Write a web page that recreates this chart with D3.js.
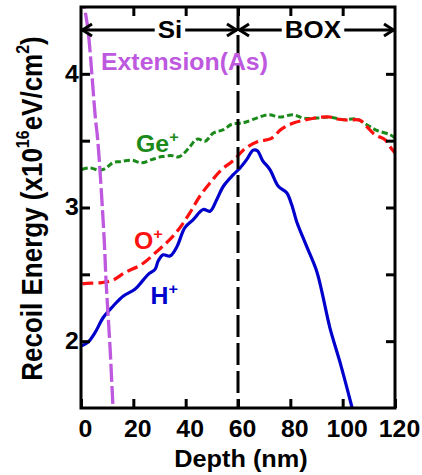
<!DOCTYPE html>
<html>
<head>
<meta charset="utf-8">
<script src="https://cdn.jsdelivr.net/npm/d3@7"></script>
<style>
  body { margin: 0; background: #fff; }
  svg { display: block; }
  text { font-family: "Liberation Sans", Arial, Helvetica, sans-serif; font-weight: bold; }
</style>
</head>
<body>
<svg id="chart" width="422" height="475"></svg>
<script>
// Axis ticks
const depthTicks = [0, 20, 40, 60, 80, 100, 120];
const energyTicks = [2, 2.5, 3, 3.5, 4];
const energyLabelTicks = [2, 3, 4];
const topTicks = [20, 40, 60, 80, 100];

// Region boundary (Si / BOX interface, nm)
const interfaceDepth = 60;
const regionNames = ["Si", "BOX"];
const regionLabelDepth = [34, 88.6];

// H+ recoil energy
const hDepth = [0.3, 2.8, 5.4, 8.5, 12.3, 16.2, 20.6, 23.2, 25.7, 28.3, 29.5, 31.4, 34.0, 36.6, 39.7, 42.9,
  46.7, 49.3, 51.9, 54.4, 58.2, 60.8, 63.3, 65.8, 67.4, 69.4, 72.2, 75.4, 78.6, 80.5, 82.4, 86.2, 90.1,
  92.0, 95.1, 99.0, 103.4, 104.5];
const hEnergy = [1.965, 1.995, 2.065, 2.177, 2.263, 2.338, 2.388, 2.444, 2.50, 2.537, 2.60, 2.646, 2.637,
  2.705, 2.849, 2.91, 2.985, 2.972, 3.06, 3.159, 3.246, 3.296, 3.358, 3.429, 3.425, 3.351, 3.284, 3.159,
  3.11, 3.022, 2.896, 2.711, 2.522, 2.375, 2.102, 1.841, 1.517, 1.43];

// O+ recoil energy
const oDepth = [0.5, 2.2, 7.9, 12.0, 16.8, 23.2, 29.2, 34.0, 37.8, 41.6, 45.4, 49.3, 53.8, 58.2, 62.7,
  67.6, 72.6, 76.6, 81.4, 86.2, 91.3, 95.1, 97.7, 102.0, 106.6, 109.3, 112.3, 116.2, 118.1, 120];
const oEnergy = [2.43, 2.433, 2.438, 2.455, 2.513, 2.575, 2.675, 2.761, 2.849, 2.96, 3.084, 3.184, 3.284,
  3.352, 3.44, 3.493, 3.515, 3.586, 3.634, 3.657, 3.675, 3.677, 3.662, 3.654, 3.653, 3.604, 3.545, 3.507,
  3.455, 3.408];

// Ge+ recoil energy
const geDepth = [0.3, 3.4, 6.9, 8.8, 10.4, 12.3, 14.9, 19.4, 23.2, 27.0, 31.0, 34.8, 37.2, 39.0, 41.7,
  43.6, 44.8, 47.4, 50.6, 54.4, 57.6, 60.8, 62.7, 67.1, 71.6, 76.0, 81.1, 84.9, 90.1, 95.1, 100.2, 105.4,
  109.2, 113.0, 118.1, 120];
const geEnergy = [3.284, 3.296, 3.278, 3.287, 3.308, 3.336, 3.343, 3.354, 3.334, 3.358, 3.381, 3.388,
  3.378, 3.399, 3.457, 3.502, 3.513, 3.495, 3.557, 3.582, 3.623, 3.631, 3.638, 3.669, 3.694, 3.677, 3.694,
  3.669, 3.669, 3.677, 3.657, 3.662, 3.619, 3.577, 3.545, 3.52];

// Extension (As) profile
const asDepth = [0.6, 1.34, 2.67, 5.54, 6.38, 8.87, 9.55, 11.08, 12.23, 12.6];
const asEnergy = [4.62, 4.5, 4.33, 3.66, 3.51, 2.76, 2.46, 1.96, 1.51, 1.4];

const W = 422, H = 475;
const plot = { left: 81, right: 395, top: 7, bottom: 408 };
const sx = 1.08; // horizontal stretch of lettering

const x = d3.scaleLinear().domain([0, 120]).range([plot.left, plot.right]);
const y = d3.scaleLinear().domain([1.5, 4.5]).range([plot.bottom, plot.top]);

const svg = d3.select("#chart");

svg.append("defs").append("clipPath").attr("id", "plotClip")
  .append("rect")
  .attr("x", plot.left).attr("y", plot.top)
  .attr("width", plot.right - plot.left).attr("height", plot.bottom - plot.top);

// Text helper: parts = [{t, sup}], stretched horizontally
function label(parent, tx, ty, parts, opt) {
  const g = parent.append("g").attr("transform", `translate(${tx},${ty}) scale(${opt.scale || sx},1)`);
  const t = g.append("text").attr("x", 0).attr("y", 0)
    .attr("font-size", opt.size).attr("fill", opt.color || "#000")
    .attr("text-anchor", opt.anchor || "start");
  if (opt.spacing) t.attr("letter-spacing", opt.spacing);
  let raised = 0;
  parts.forEach(p => {
    const s = t.append("tspan").text(p.t);
    if (p.sup) {
      s.attr("font-size", opt.supSize).attr("dy", -opt.supRise);
      raised = opt.supRise;
    } else if (raised) {
      s.attr("dy", raised);
      raised = 0;
    }
  });
  return { g, t };
}

// Curves
const line = d3.line()
  .x(d => x(d[0])).y(d => y(d[1]))
  .curve(d3.curveCatmullRom.alpha(0.5));

const curves = svg.append("g").attr("clip-path", "url(#plotClip)");

function series(xs, ys, color, width, dash) {
  const p = curves.append("path")
    .datum(d3.zip(xs, ys))
    .attr("d", line)
    .attr("fill", "none")
    .attr("stroke", color)
    .attr("stroke-width", width)
    .attr("stroke-linejoin", "round");
  if (dash) p.attr("stroke-dasharray", dash);
}

series(geDepth, geEnergy, "#1b8a1b", 3, "6,3");
series(oDepth, oEnergy, "#ff1010", 3.2, "11,5");
series(hDepth, hEnergy, "#0000cc", 3.2, null);
series(asDepth, asEnergy, "#bd58df", 3.3, "18,4");

// Interface line
svg.append("line")
  .attr("x1", x(interfaceDepth)).attr("x2", x(interfaceDepth))
  .attr("y1", plot.top).attr("y2", plot.bottom)
  .attr("stroke", "#000").attr("stroke-width", 3)
  .attr("stroke-dasharray", "22,6");

// Frame
svg.append("rect")
  .attr("x", plot.left).attr("y", plot.top)
  .attr("width", plot.right - plot.left).attr("height", plot.bottom - plot.top)
  .attr("fill", "none").attr("stroke", "#000").attr("stroke-width", 3);

// Axes (ticks pointing inward)
function styleAxis(g) {
  g.select(".domain").remove();
  g.selectAll(".tick line").attr("stroke", "#000").attr("stroke-width", 3);
  g.selectAll(".tick text")
    .attr("font-family", '"Liberation Sans", Arial, sans-serif')
    .attr("font-weight", "bold").attr("font-size", 23).attr("fill", "#000");
}

const xAxis = svg.append("g").attr("transform", `translate(0,${plot.bottom})`)
  .call(d3.axisBottom(x).tickValues(depthTicks).tickSizeInner(-9).tickSizeOuter(0).tickPadding(13)
    .tickFormat(d3.format("d")));
styleAxis(xAxis);
xAxis.selectAll(".tick text").attr("transform", `translate(4,0) scale(${sx},1)`);

svg.append("g").attr("transform", `translate(0,${plot.top})`)
  .call(d3.axisTop(x).tickValues(topTicks).tickSizeInner(-9).tickSizeOuter(0).tickFormat(""))
  .call(styleAxis);

const yAxis = svg.append("g").attr("transform", `translate(${plot.left},0)`)
  .call(d3.axisLeft(y).tickValues(energyTicks).tickSizeInner(-9).tickSizeOuter(0).tickPadding(2)
    .tickFormat(d => energyLabelTicks.includes(d) ? d3.format("d")(d) : ""));
styleAxis(yAxis);
yAxis.selectAll(".tick text").attr("transform", `scale(${sx},1)`);

svg.append("g").attr("transform", `translate(${plot.right},0)`)
  .call(d3.axisRight(y).tickValues(energyTicks).tickSizeInner(-9).tickSizeOuter(0).tickFormat(""))
  .call(styleAxis);

// Axis titles
label(svg, (plot.left + plot.right) / 2 + 3, 467, [{ t: "Depth (nm)" }],
  { size: 23, anchor: "middle", scale: 1.1 });

const yt = svg.append("g").attr("transform", `translate(42,${(plot.top + plot.bottom) / 2 + 1}) rotate(-90) scale(1,1.1)`);
const ytText = yt.append("text").attr("text-anchor", "middle").attr("font-size", 26).attr("fill", "#000");
ytText.append("tspan").text("Recoil Energy (x10");
ytText.append("tspan").text("16").attr("font-size", 16).attr("dy", -12);
ytText.append("tspan").text("eV/cm").attr("dy", 12);
ytText.append("tspan").text("2").attr("font-size", 16).attr("dy", -12);
ytText.append("tspan").text(")").attr("dy", 12);

// Region markers with double arrows
const arrowY = 30;
const bounds = [[0, interfaceDepth], [interfaceDepth, 120]];
const ann = svg.append("g");
regionNames.forEach((name, i) => {
  const cx = x(regionLabelDepth[i]);
  const { t } = label(ann, cx, 38, [{ t: name }], { size: 24, anchor: "middle" });
  const bb = t.node().getBBox();
  const tx0 = cx + bb.x * sx - 3, tx1 = cx + (bb.x + bb.width) * sx + 3;
  const xa = x(bounds[i][0]), xb = x(bounds[i][1]);
  ann.append("line").attr("x1", xa + 1).attr("x2", tx0).attr("y1", arrowY).attr("y2", arrowY)
    .attr("stroke", "#000").attr("stroke-width", 3);
  ann.append("line").attr("x1", tx1).attr("x2", xb - 1).attr("y1", arrowY).attr("y2", arrowY)
    .attr("stroke", "#000").attr("stroke-width", 3);
  ann.append("path")
    .attr("d", `M${xa + 11},${arrowY - 6} L${xa + 1.5},${arrowY} L${xa + 11},${arrowY + 6}`)
    .attr("fill", "none").attr("stroke", "#000").attr("stroke-width", 3);
  ann.append("path")
    .attr("d", `M${xb - 11},${arrowY - 6} L${xb - 1.5},${arrowY} L${xb - 11},${arrowY + 6}`)
    .attr("fill", "none").attr("stroke", "#000").attr("stroke-width", 3);
});

// Series labels
label(svg, 101, 69.5, [{ t: "Extension(As)" }], { size: 23, color: "#bd58df" });
label(svg, 136, 152, [{ t: "Ge" }, { t: "+", sup: true }], { size: 23, color: "#1b8a1b", supSize: 15, supRise: 10 });
label(svg, 134, 249, [{ t: "O" }, { t: "+", sup: true }], { size: 23, color: "#ff1010", supSize: 15, supRise: 10 });
label(svg, 150.5, 304, [{ t: "H" }, { t: "+", sup: true }], { size: 23, color: "#0000cc", supSize: 15, supRise: 10 });
</script>
</body>
</html>
